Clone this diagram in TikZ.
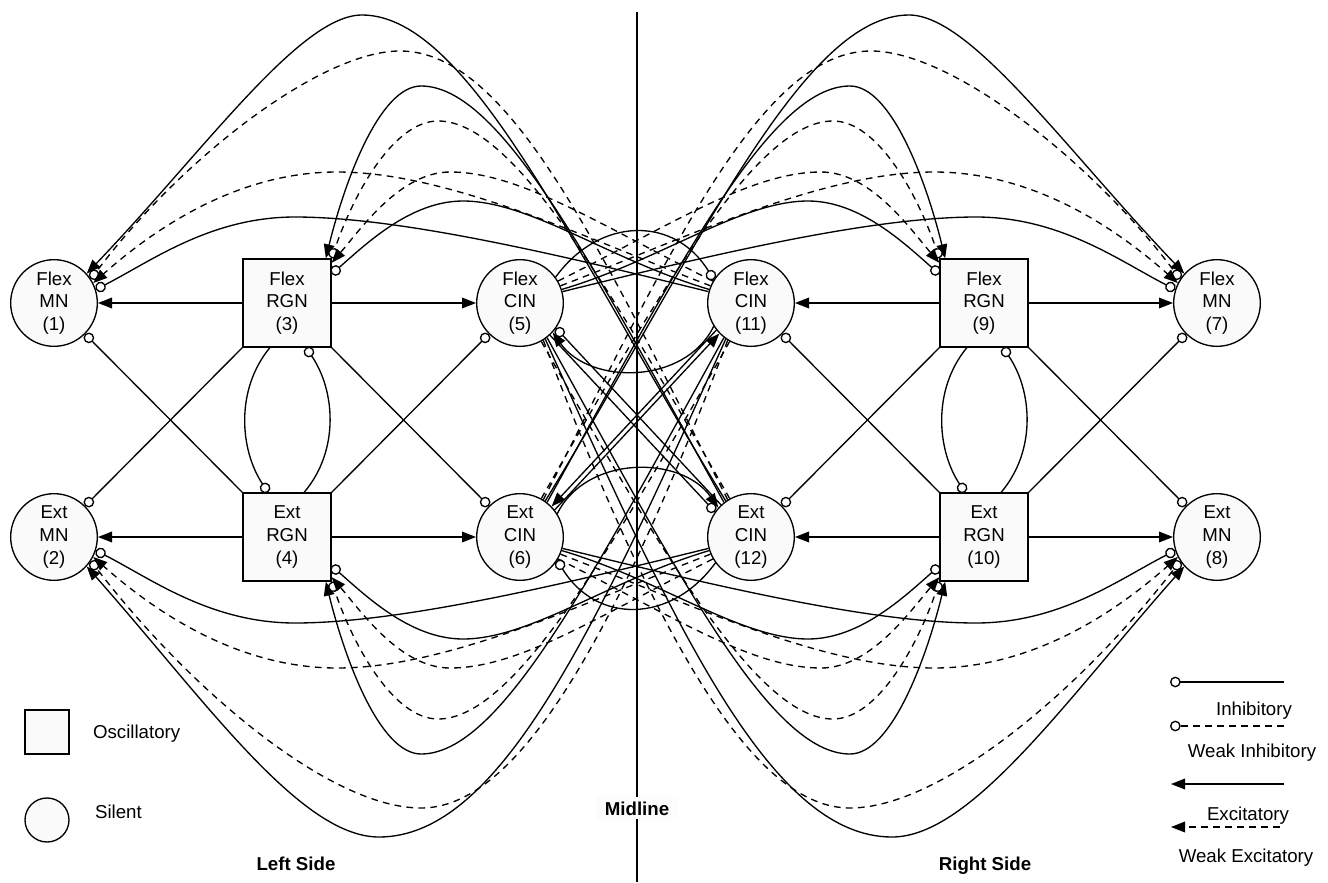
\documentclass[tikz,border=0pt]{standalone}
\usepackage{fontspec}
\setmainfont{Liberation Sans}
\usetikzlibrary{arrows.meta}

\begin{document}
\begin{tikzpicture}[x=0.75pt,y=-0.75pt,line width=1pt,
    osc/.style={rectangle,draw,fill=black!2,minimum size=66pt,align=center,font=\fontsize{14}{17}\selectfont},
    sil/.style={circle,draw,fill=black!2,minimum size=65pt,inner sep=0pt,align=center,font=\fontsize{14}{17}\selectfont},
    exc/.style={-{Triangle[length=10.5pt,width=8pt]}},
    wexc/.style={exc,dash pattern=on 5pt off 4pt},
    inh/.style={-{Circle[fill=white,length=8pt]}},
    winh/.style={inh,dash pattern=on 5pt off 4pt},
    lbl/.style={font=\fontsize{14}{17}\selectfont},
    side/.style={font=\fontsize{14}{17}\selectfont\bfseries}]
        \useasboundingbox (0,0) rectangle (1328,882);

        % 中线
        \coordinate (mtop) at (637,12);
        \coordinate (mbot) at (637,882);
        \draw (mtop) -- (mbot);
        \node[side,fill=black!1,inner xsep=7pt,inner ysep=3pt,anchor=base] (midl) at (637,815) {Midline};

        % 左侧节点
        \node[sil] (mn1) at (54,303) {Flex\\MN\\(1)};
        \node[sil] (mn2) at (54,537) {Ext\\MN\\(2)};
        \node[osc] (rg3) at (287,303) {Flex\\RGN\\(3)};
        \node[osc] (rg4) at (287,537) {Ext\\RGN\\(4)};
        \node[sil] (c5) at (520,303) {Flex\\CIN\\(5)};
        \node[sil] (c6) at (520,537) {Ext\\CIN\\(6)};

        % 右侧节点
        \node[sil] (c11) at (751,303) {Flex\\CIN\\(11)};
        \node[sil] (c12) at (751,537) {Ext\\CIN\\(12)};
        \node[osc] (rg9) at (984,303) {Flex\\RGN\\(9)};
        \node[osc] (rg10) at (984,537) {Ext\\RGN\\(10)};
        \node[sil] (mn7) at (1217,303) {Flex\\MN\\(7)};
        \node[sil] (mn8) at (1217,537) {Ext\\MN\\(8)};

        % 同侧连接
        \draw[exc] (rg3.west) -- (mn1.east);
        \draw[exc] (rg3.east) -- (c5.west);
        \draw[exc] (rg4.west) -- (mn2.east);
        \draw[exc] (rg4.east) -- (c6.west);
        \draw[inh] (rg3.south west) -- (mn2.45);
        \draw[inh] (rg4.north west) -- (mn1.-45);
        \draw[inh] (rg3.south east) -- (c6.135);
        \draw[inh] (rg4.north east) -- (c5.-135);
        \draw[inh] (rg3.-111) .. controls (235,390) and (240,450) .. (rg4.113);
        \draw[inh] (rg4.69) .. controls (340,450) and (335,390) .. (rg3.-67);

        \draw[exc] (rg9.east) -- (mn7.west);
        \draw[exc] (rg9.west) -- (c11.east);
        \draw[exc] (rg10.east) -- (mn8.west);
        \draw[exc] (rg10.west) -- (c12.east);
        \draw[inh] (rg9.south east) -- (mn8.135);
        \draw[inh] (rg10.north east) -- (mn7.-135);
        \draw[inh] (rg9.south west) -- (c12.45);
        \draw[inh] (rg10.north west) -- (c11.-45);
        \draw[inh] (rg9.-111) .. controls (932,390) and (937,450) .. (rg10.113);
        \draw[inh] (rg10.69) .. controls (1037,450) and (1032,390) .. (rg9.-67);

        % 左上: 对侧 CIN 到 (1) (3)
        \draw[exc] (c12.125) .. controls (575,255) and (470,15) .. (362,15) .. controls (300,15) and (205,150) .. (mn1.42);
        \draw[winh] (c12.122) .. controls (600,250) and (510,51) .. (400,51) .. controls (320,51) and (180,160) .. (mn1.33);
        \draw[exc] (c12.128) .. controls (590,260) and (500,86) .. (421,86) .. controls (380,86) and (345,180) .. (rg3.49);
        \draw[winh] (c12.119) .. controls (600,270) and (510,121) .. (438,121) .. controls (395,121) and (355,190) .. (rg3.45);
        \draw[wexc] (c11.157) .. controls (590,240) and (450,172) .. (337,172) .. controls (250,172) and (170,215) .. (mn1.27);
        \draw[inh] (c11.165) .. controls (560,255) and (400,217) .. (295,217) .. controls (210,217) and (150,262) .. (mn1.18);
        \draw[wexc] (c11.150) .. controls (600,225) and (520,172) .. (450,172) .. controls (400,172) and (360,230) .. (rg3.42);
        \draw[inh] (c11.162) .. controls (610,260) and (530,201) .. (463,201) .. controls (410,201) and (365,245) .. (rg3.33);

        % 右上: 对侧 CIN 到 (7) (9)
        \draw[exc] (c6.55) .. controls (696,255) and (801,15) .. (909,15) .. controls (971,15) and (1066,150) .. (mn7.138);
        \draw[winh] (c6.58) .. controls (671,250) and (761,51) .. (871,51) .. controls (951,51) and (1091,160) .. (mn7.147);
        \draw[exc] (c6.52) .. controls (681,260) and (771,86) .. (850,86) .. controls (891,86) and (926,180) .. (rg9.131);
        \draw[winh] (c6.61) .. controls (671,270) and (761,121) .. (833,121) .. controls (876,121) and (916,190) .. (rg9.135);
        \draw[wexc] (c5.23) .. controls (681,240) and (821,172) .. (934,172) .. controls (1021,172) and (1101,215) .. (mn7.153);
        \draw[inh] (c5.15) .. controls (711,255) and (871,217) .. (976,217) .. controls (1061,217) and (1121,262) .. (mn7.162);
        \draw[wexc] (c5.30) .. controls (671,225) and (751,172) .. (821,172) .. controls (871,172) and (911,230) .. (rg9.138);
        \draw[inh] (c5.18) .. controls (661,260) and (741,201) .. (808,201) .. controls (861,201) and (906,245) .. (rg9.147);

        % 左下: 对侧 CIN 到 (2) (4)
        \draw[exc] (c11.-125) .. controls (595,630) and (500,837) .. (379,837) .. controls (300,837) and (205,700) .. (mn2.-42);
        \draw[winh] (c11.-122) .. controls (610,650) and (515,808) .. (421,808) .. controls (330,808) and (190,690) .. (mn2.-33);
        \draw[exc] (c11.-128) .. controls (590,580) and (500,754) .. (421,754) .. controls (380,754) and (345,660) .. (rg4.-49);
        \draw[winh] (c11.-119) .. controls (600,570) and (510,719) .. (438,719) .. controls (395,719) and (355,650) .. (rg4.-45);
        \draw[wexc] (c12.-157) .. controls (590,600) and (450,668) .. (337,668) .. controls (250,668) and (170,625) .. (mn2.-27);
        \draw[inh] (c12.-165) .. controls (560,585) and (400,623) .. (295,623) .. controls (210,623) and (150,578) .. (mn2.-18);
        \draw[wexc] (c12.-150) .. controls (600,615) and (520,668) .. (450,668) .. controls (400,668) and (360,610) .. (rg4.-42);
        \draw[inh] (c12.-162) .. controls (610,580) and (530,639) .. (463,639) .. controls (410,639) and (365,595) .. (rg4.-33);

        % 右下: 对侧 CIN 到 (8) (10)
        \draw[exc] (c5.-55) .. controls (676,630) and (771,837) .. (892,837) .. controls (971,837) and (1066,700) .. (mn8.222);
        \draw[winh] (c5.-58) .. controls (661,650) and (756,808) .. (850,808) .. controls (941,808) and (1081,690) .. (mn8.213);
        \draw[exc] (c5.-52) .. controls (681,580) and (771,754) .. (850,754) .. controls (891,754) and (926,660) .. (rg10.229);
        \draw[winh] (c5.-61) .. controls (671,570) and (761,719) .. (833,719) .. controls (876,719) and (916,650) .. (rg10.225);
        \draw[wexc] (c6.-23) .. controls (681,600) and (821,668) .. (934,668) .. controls (1021,668) and (1101,625) .. (mn8.207);
        \draw[inh] (c6.-15) .. controls (711,585) and (871,623) .. (976,623) .. controls (1061,623) and (1121,578) .. (mn8.198);
        \draw[wexc] (c6.-30) .. controls (671,615) and (751,668) .. (821,668) .. controls (871,668) and (911,610) .. (rg10.222);
        \draw[inh] (c6.-18) .. controls (661,580) and (741,639) .. (808,639) .. controls (861,639) and (906,595) .. (rg10.213);

        % CIN 之间
        \draw[inh] (c5.36) .. controls (600,216) and (675,216) .. (c11.148);
        \draw[inh] (c12.216) .. controls (671,624) and (596,624) .. (c6.-32);
        \draw[exc] (c11.212) .. controls (685,385) and (590,385) .. (c5.-42);
        \draw[exc] (c6.32) .. controls (586,455) and (681,455) .. (c12.138);
        \draw[exc] (c6.38) -- (c11.224);
        \draw[exc] (c11.218) -- (c6.44);
        \draw[inh] (c12.133) -- (c5.-35);
        \draw[inh] (c5.-47) -- (c12.145);

        % 图例
        \node[osc,minimum size=33pt] (legosc) at (47,732) {};
        \node[lbl,anchor=base west] (tosc) at (88,738) {Oscillatory};
        \node[sil,minimum size=33pt] (legsil) at (47,820) {};
        \node[lbl,anchor=base west] (tsil) at (90,818) {Silent};

        \coordinate (li1) at (1284,682);
        \coordinate (li2) at (1170,682);
        \draw[inh] (li1) -- (li2);
        \node[lbl,anchor=base] (tinh) at (1254,715) {Inhibitory};
        \coordinate (lw1) at (1284,726);
        \coordinate (lw2) at (1170,726);
        \draw[winh] (lw1) -- (lw2);
        \node[lbl,anchor=base] (twinh) at (1252,757) {Weak Inhibitory};
        \coordinate (le1) at (1284,784);
        \coordinate (le2) at (1171,784);
        \draw[exc] (le1) -- (le2);
        \node[lbl,anchor=base] (texc) at (1248,820) {Excitatory};
        \coordinate (lx1) at (1280,827);
        \coordinate (lx2) at (1171,827);
        \draw[wexc] (lx1) -- (lx2);
        \node[lbl,anchor=base] (twexc) at (1246,862) {Weak Excitatory};

        % 两侧标题
        \node[side,anchor=base] (lside) at (296,870) {Left Side};
        \node[side,anchor=base] (rside) at (985,870) {Right Side};
    \end{tikzpicture}
\end{document}
